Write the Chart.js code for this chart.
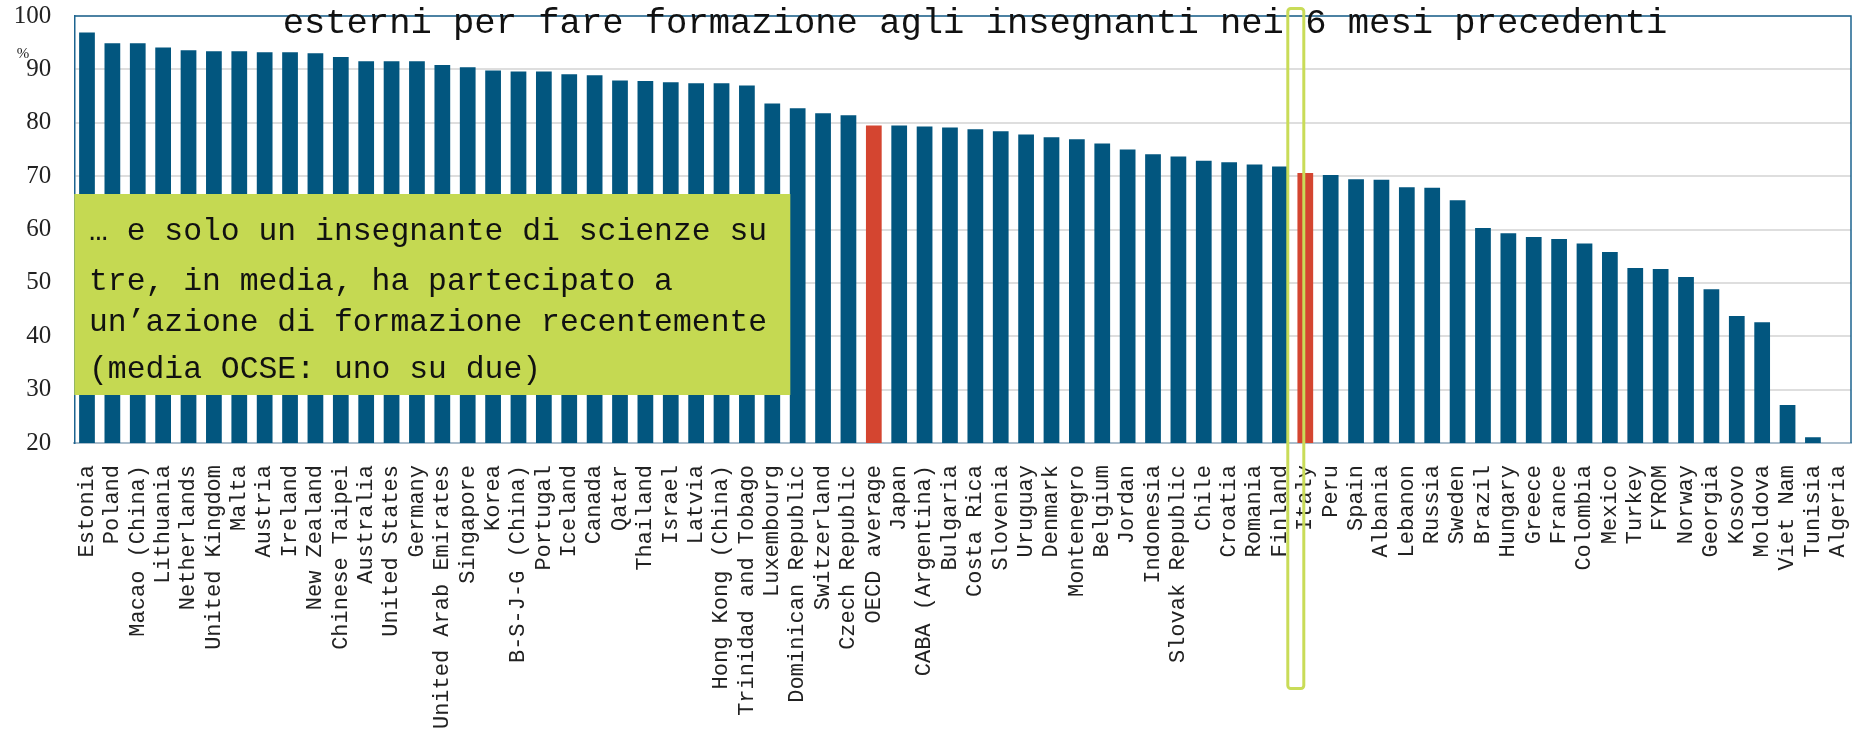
<!DOCTYPE html>
<html>
<head>
<meta charset="utf-8">
<script src="https://cdn.jsdelivr.net/npm/chart.js@4"></script>
<style>
  html, body { margin: 0; padding: 0; background: #fff; }
</style>
</head>
<body>
<canvas id="chart" width="1860" height="735"></canvas>
<script>
const countries = [
  'Estonia', 'Poland', 'Macao (China)', 'Lithuania', 'Netherlands', 'United Kingdom', 'Malta', 'Austria', 'Ireland', 'New Zealand',
  'Chinese Taipei', 'Australia', 'United States', 'Germany', 'United Arab Emirates', 'Singapore', 'Korea', 'B-S-J-G (China)', 'Portugal', 'Iceland',
  'Canada', 'Qatar', 'Thailand', 'Israel', 'Latvia', 'Hong Kong (China)', 'Trinidad and Tobago', 'Luxembourg', 'Dominican Republic', 'Switzerland',
  'Czech Republic', 'OECD average', 'Japan', 'CABA (Argentina)', 'Bulgaria', 'Costa Rica', 'Slovenia', 'Uruguay', 'Denmark', 'Montenegro',
  'Belgium', 'Jordan', 'Indonesia', 'Slovak Republic', 'Chile', 'Croatia', 'Romania', 'Finland', 'Italy', 'Peru',
  'Spain', 'Albania', 'Lebanon', 'Russia', 'Sweden', 'Brazil', 'Hungary', 'Greece', 'France', 'Colombia',
  'Mexico', 'Turkey', 'FYROM', 'Norway', 'Georgia', 'Kosovo', 'Moldova', 'Viet Nam', 'Tunisia', 'Algeria'
];
const shares = [
  96.9, 94.9, 94.9, 94.1, 93.6, 93.4, 93.4, 93.2, 93.2, 93.0,
  92.3, 91.5, 91.5, 91.5, 90.8, 90.4, 89.8, 89.6, 89.6, 89.1,
  88.9, 87.9, 87.8, 87.6, 87.4, 87.4, 87.0, 83.6, 82.7, 81.8,
  81.4, 79.5, 79.5, 79.3, 79.1, 78.8, 78.4, 77.8, 77.3, 76.9,
  76.1, 75.0, 74.1, 73.7, 72.9, 72.6, 72.2, 71.8, 70.6, 70.2,
  69.4, 69.3, 67.9, 67.8, 65.5, 60.3, 59.3, 58.6, 58.2, 57.4,
  55.8, 52.8, 52.6, 51.1, 48.8, 43.8, 42.6, 27.1, 21.1, 20.0
];
const redBars = ['OECD average', 'Italy'];
const highlighted = 'Italy';
const yMin = 20, yMax = 100, yStep = 10;

const titleText = 'esterni per fare formazione agli insegnanti nei 6 mesi precedenti';
const noteLines = [
  '… e solo un insegnante di scienze su',
  'tre, in media, ha partecipato a',
  'un’azione di formazione recentemente',
  '(media OCSE: uno su due)'
];

const blue = '#02567f';
const red = '#d44530';
const frameBlue = '#1d6490';
const noteGreen = '#c5d952';
const outlineGreen = '#c9dc58';

// boxes, outline, title and unit drawn on top of the bars
const overlay = {
  id: 'overlay',
  afterDatasetsDraw(chart) {
    const { ctx, chartArea: a, scales: { x } } = chart;
    ctx.save();

    ctx.strokeStyle = frameBlue;
    ctx.lineWidth = 1.5;
    ctx.beginPath();
    ctx.moveTo(a.left, a.top);
    ctx.lineTo(a.right, a.top);
    ctx.lineTo(a.right, a.bottom);
    ctx.stroke();

    ctx.fillStyle = noteGreen;
    ctx.fillRect(a.left, 194, 716, 201);
    ctx.fillStyle = '#111';
    ctx.font = '31.4px "Liberation Mono"';
    ctx.textBaseline = 'alphabetic';
    const baselines = [240, 290, 331, 378];
    noteLines.forEach((t, i) => ctx.fillText(t, 89, baselines[i]));

    const cx = x.getPixelForValue(countries.indexOf(highlighted));
    ctx.strokeStyle = outlineGreen;
    ctx.lineWidth = 3;
    ctx.beginPath();
    ctx.roundRect(cx - 17.5, 8.5, 16, 680, 3);
    ctx.stroke();

    ctx.fillStyle = '#111';
    ctx.font = '35.5px "Liberation Mono"';
    ctx.textAlign = 'center';
    ctx.fillText(titleText, 975, 33);

    ctx.fillStyle = '#222';
    ctx.font = '15px "Liberation Serif"';
    ctx.fillText('%', 23, 58);
    ctx.restore();
  }
};

new Chart(document.getElementById('chart'), {
  type: 'bar',
  data: {
    labels: countries,
    datasets: [{
      data: shares,
      backgroundColor: countries.map(c => redBars.includes(c) ? red : blue),
      barPercentage: 0.62,
      categoryPercentage: 1.0
    }]
  },
  options: {
    responsive: false,
    animation: false,
    devicePixelRatio: 1,
    layout: { padding: { top: 16, right: 9, left: 0, bottom: 0 } },
    plugins: { legend: { display: false }, tooltip: { enabled: false }, title: { display: false } },
    scales: {
      x: {
        grid: { display: false, drawTicks: false },
        border: { display: true, color: '#a9bccb', width: 2 },
        ticks: {
          autoSkip: false,
          minRotation: 90,
          maxRotation: 90,
          padding: 22,
          color: '#222',
          font: { family: '"Liberation Mono"', size: 22 }
        },
        afterFit(scale) {
          scale.height = 292;
          scale.paddingLeft = 0;
          scale.paddingRight = 0;
        }
      },
      y: {
        min: yMin,
        max: yMax,
        ticks: {
          stepSize: yStep,
          padding: 23,
          color: '#222',
          font: { family: '"Liberation Serif"', size: 25 }
        },
        grid: { color: '#dedede', lineWidth: 2, drawTicks: false },
        border: { display: true, color: frameBlue, width: 1.5 },
        afterFit(scale) {
          scale.width = 74.3;
          scale.paddingTop = 0;
          scale.paddingBottom = 0;
        }
      }
    }
  },
  plugins: [overlay]
});
</script>
</body>
</html>
